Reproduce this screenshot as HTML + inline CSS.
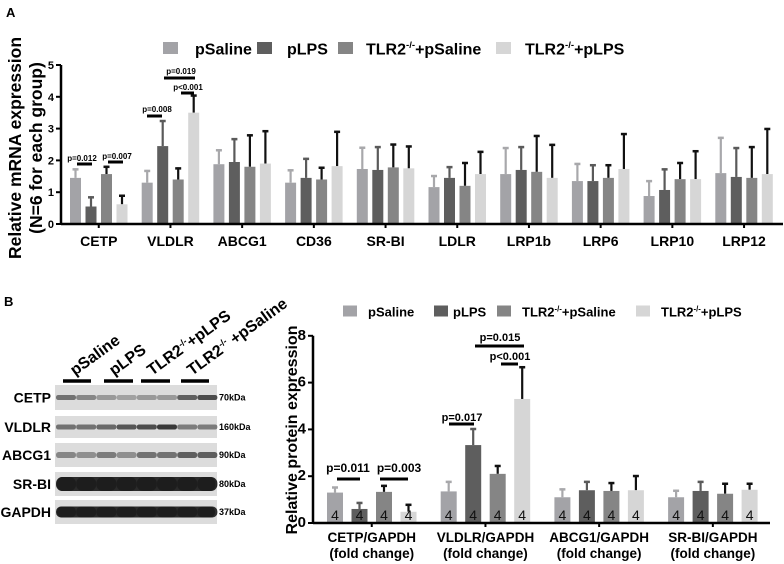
<!DOCTYPE html>
<html><head><meta charset="utf-8"><style>
html,body{margin:0;padding:0;background:#fff;}
svg{display:block;font-family:"Liberation Sans",Arial,sans-serif;font-weight:bold;}
</style></head><body>
<svg id="fig" width="784" height="564" viewBox="0 0 784 564" xmlns="http://www.w3.org/2000/svg">
<text x="6" y="17" font-size="13">A</text>
<text x="4" y="306" font-size="13">B</text>
<g id="chartA"></g>
<g id="chartB"></g>
<g id="blot"></g>
</svg>
<script>
// ---- Panel A data ----
const seriesNames = ["pSaline","pLPS","TLR2-/-+pSaline","TLR2-/-+pLPS"];
const genesA = ["CETP","VLDLR","ABCG1","CD36","SR-BI","LDLR","LRP1b","LRP6","LRP10","LRP12"];
const aSaline    = [1.45,1.3,1.88,1.3,1.73,1.16,1.57,1.35,0.88,1.6];
const aLPS       = [0.55,2.45,1.95,1.45,1.7,1.45,1.7,1.35,1.07,1.48];
const aKOSaline  = [1.57,1.4,1.8,1.4,1.78,1.2,1.64,1.45,1.41,1.45];
const aKOLPS     = [0.62,3.5,1.9,1.82,1.75,1.57,1.45,1.73,1.41,1.57];
const aSalineErr   = [1.75,1.7,2.35,1.72,2.43,1.54,2.42,1.92,1.38,2.74];
const aLPSErr      = [0.87,3.27,2.7,2.08,2.45,1.82,2.45,1.88,1.75,2.42];
const aKOSalineErr = [1.83,1.78,2.82,1.8,2.53,1.95,2.8,1.88,1.95,2.45];
const aKOLPSErr    = [0.92,4.07,2.95,2.93,2.47,2.3,2.52,2.86,2.32,3.02];
const ticksA = [0,1,2,3,4,5];
// ---- Panel B data ----
const genesB = ["CETP/GAPDH","VLDLR/GAPDH","ABCG1/GAPDH","SR-BI/GAPDH"];
const bSaline   = [1.3,1.35,1.1,1.1];
const bLPS      = [0.6,3.33,1.4,1.37];
const bKOSaline = [1.33,2.1,1.37,1.25];
const bKOLPS    = [0.48,5.3,1.4,1.42];
const bSalineErr   = [1.56,1.8,1.48,1.42];
const bLPSErr      = [0.9,4.06,1.8,1.8];
const bKOSalineErr = [1.63,2.48,1.75,1.72];
const bKOLPSErr    = [0.82,6.7,2.05,1.72];
const ticksB = [0,2,4,6,8];
const nLabels = ["4","4","4","4"];

const NS="http://www.w3.org/2000/svg";
const fills=["#a3a3a7","#5e5e5e","#858585","#d6d6d6"];
const errCols=["#a8a8ab","#5a5a5a","#111","#111"];
function mk(tag,attrs,parent,txt){const e=document.createElementNS(NS,tag);for(const k in attrs)e.setAttribute(k,attrs[k]);if(txt!==undefined)e.textContent=txt;parent.appendChild(e);return e;}

function drawChart(g,cfg){
  const y=v=>cfg.y0-v*cfg.scale;
  const gx=i=>cfg.g0+i*cfg.gp;
  const series=cfg.series, errs=cfg.errs;
  cfg.cats.forEach((c,i)=>{
    series.forEach((s,k)=>{
      const x=gx(i)+k*cfg.bp;
      const top=y(s[i]), et=y(errs[k][i]);
      const ln=mk('line',{x1:x+cfg.bw/2,x2:x+cfg.bw/2,y1:top,y2:et,stroke:errCols[k],'stroke-width':2.2},g);
      
      
      const cap=mk('line',{x1:x+cfg.bw/2-3,x2:x+cfg.bw/2+3,y1:et+1,y2:et+1,stroke:errCols[k],'stroke-width':2.5},g);
      
      
      const r=mk('rect',{x:x,y:top,width:cfg.bw,height:cfg.y0-top,fill:fills[k]},g);
      
      
      if(cfg.nlab){
        const t=mk('text',{x:x+cfg.bw/2,y:cfg.y0-3,'font-size':14,'font-weight':'normal','text-anchor':'middle',fill:'#111'},g,cfg.nlab[k]);
        
        
      }
    });
    const cx=gx(i)+1.5*cfg.bp+cfg.bw/2;
    mk('line',{x1:cx,x2:cx,y1:cfg.y0,y2:cfg.y0+4,stroke:'#000','stroke-width':2},g);
    cfg.labelLines(c).forEach((L,j)=>{
      const t=mk('text',{x:cx,y:cfg.labY+j*16,'font-size':cfg.labFs,'text-anchor':'middle'},g,L);
      
      
    });
  });
  const top=y(cfg.ticks[cfg.ticks.length-1]);
  mk('line',{x1:cfg.ax,x2:cfg.ax,y1:top,y2:cfg.y0+1,stroke:'#000','stroke-width':2.5},g);
  mk('line',{x1:cfg.ax,x2:cfg.xEnd,y1:cfg.y0,y2:cfg.y0,stroke:'#000','stroke-width':2.5},g);
  cfg.ticks.forEach(v=>{
    mk('line',{x1:cfg.ax-5,x2:cfg.ax,y1:y(v),y2:y(v),stroke:'#000','stroke-width':2},g);
    const t=mk('text',{x:cfg.ax-7,y:y(v)+4,'font-size':cfg.tickFs,'text-anchor':'end'},g,String(v));
    
    
  });
}

const gA=document.getElementById('chartA');
drawChart(gA,{cats:genesA,series:[aSaline,aLPS,aKOSaline,aKOLPS],errs:[aSalineErr,aLPSErr,aKOSalineErr,aKOLPSErr],
  y0:224,scale:31.8,g0:70,gp:71.7,bp:15.5,bw:11,ax:61,xEnd:783,ticks:ticksA,tickFs:11,labY:246,labFs:14,labelLines:c=>[c]});
const gB=document.getElementById('chartB');
drawChart(gB,{cats:genesB,series:[bSaline,bLPS,bKOSaline,bKOLPS],errs:[bSalineErr,bLPSErr,bKOSalineErr,bKOLPSErr],
  y0:523,scale:23.4,g0:327,gp:113.7,bp:24.5,bw:16,ax:313,xEnd:770,ticks:ticksB,tickFs:15,labY:542,labFs:13.5,nlab:nLabels,labelLines:c=>[c,"(fold change)"]});

function txt(g,x,y,s,fs,name,extra){const t=mk('text',Object.assign({x:x,y:y,'font-size':fs},extra||{}),g,s);return t;}
txt(gA,0,0,"Relative mRNA expression",17.5,'y-axis-title',{transform:'translate(21,148) rotate(-90)','text-anchor':'middle'});
txt(gA,0,0,"(N=6 for each group)",17.5,'y-axis-subtitle',{transform:'translate(42,148) rotate(-90)','text-anchor':'middle'});
txt(gB,0,0,"Relative protein expression",16,'y-axis-title',{transform:'translate(297,430) rotate(-90)','text-anchor':'middle'});

function legend(g,items,y,sq,fs){
  items.forEach((it,k)=>{
    const r=mk('rect',{x:it[0],y:y-sq/2-1,width:sq+3,height:sq,fill:fills[k]},g);
    
    
    const t=mk('text',{x:it[1],y:y+fs*0.35,'font-size':fs},g);
    
    
    if(k<2){t.textContent=seriesNames[k];}
    else{t.appendChild(document.createTextNode('TLR2'));const s=mk('tspan',{'font-size':fs*0.6,dy:-fs*0.4},t,'-/-');mk('tspan',{dy:fs*0.4},t,k==2?'+pSaline':'+pLPS');}
  });
}
legend(gA,[[163,195],[257,287],[338,366],[496,525]],49,12,16);
legend(gB,[[343,368],[434,453],[497,522],[636,661]],312,11,13);

function sig(g,tx,ty,label,x1,x2,by,fs){
  txt(g,tx,ty,label,fs,'p-value-label',{'text-anchor':'middle'});
  const l=mk('line',{x1:x1,x2:x2,y1:by,y2:by,stroke:'#000','stroke-width':3},g);
  
  
}
sig(gA,82,161,"p=0.012",77,92,164,8);
sig(gA,117,159,"p=0.007",108,123,162,8);
sig(gA,157,112,"p=0.008",147,162,116,8);
sig(gA,181,74,"p=0.019",164,195,78,8);
sig(gA,188,90,"p<0.001",181,194,93,8);
sig(gB,348,472,"p=0.011",337,360,479,12);
sig(gB,399,472,"p=0.003",380,408,479,12);
sig(gB,462,421,"p=0.017",449,474,424,11);
sig(gB,500,341,"p=0.015",475,524,346,11);
sig(gB,510,360,"p<0.001",501,518,364,11);

// western blot
const blot=document.getElementById('blot');
const rows=[["CETP",385,410,"70kDa"],["VLDLR",416,438,"160kDa"],["ABCG1",443,467,"90kDa"],["SR-BI",472,496,"80kDa"],["GAPDH",500,524,"37kDa"]];
const bandDark=[[0.55,0.45,0.35,0.3,0.35,0.35,0.65,0.75],[0.55,0.55,0.6,0.7,0.75,0.85,0.5,0.5],[0.45,0.4,0.5,0.4,0.55,0.55,0.65,0.65],[0.95,0.95,0.95,0.95,0.95,0.95,0.95,0.95],[0.9,0.9,0.9,0.9,0.9,0.9,0.9,0.9]];
const bandH=[5,5,6,14,11];
rows.forEach((r,i)=>{
  const rc=mk('rect',{x:55,y:r[1],width:162,height:r[2]-r[1],fill:'#dcdcdc'},blot);
  
  
  const cy=(r[1]+r[2])/2, h=bandH[i];
  if(i>=3){
    const bg=mk('rect',{x:57,y:cy-h/2,width:158,height:h,rx:5,fill:'#2a2a2a'},blot);
    
    
  }
  for(let l=0;l<8;l++){
    const cx=66+l*20.2, d=bandDark[i][l];
    const e=mk('rect',{x:cx-10,y:cy-h/2,width:20,height:h,rx:h/2.2,fill:'#1c1c1c','fill-opacity':d},blot);
    
    
  }
  txt(blot,51,(r[1]+r[2])/2+5,r[0],14,'blot-row-label',{'text-anchor':'end'});
  txt(blot,219,(r[1]+r[2])/2+3,r[3],9,'kda-label');
});
[[63,91],[104,133],[141,170],[181,209]].forEach(b=>{
  const l=mk('line',{x1:b[0],x2:b[1],y1:381,y2:381,stroke:'#000','stroke-width':3.5},blot);
  
  
});
const laneLab=[[75,376,"pSaline"],[114,376,"pLPS"],[152,376,"TLR2"],[192,376,"TLR2"]];
laneLab.forEach((L,k)=>{
  const t=mk('text',{transform:'translate('+L[0]+','+L[1]+') rotate(-36)','font-size':16},blot);
  
  
  t.appendChild(document.createTextNode(L[2]));
  if(k>=2){mk('tspan',{'font-size':9,dy:-6},t,'-/-');mk('tspan',{dy:6},t,k==2?'+pLPS':' +pSaline');}
});
</script>
</body></html>
